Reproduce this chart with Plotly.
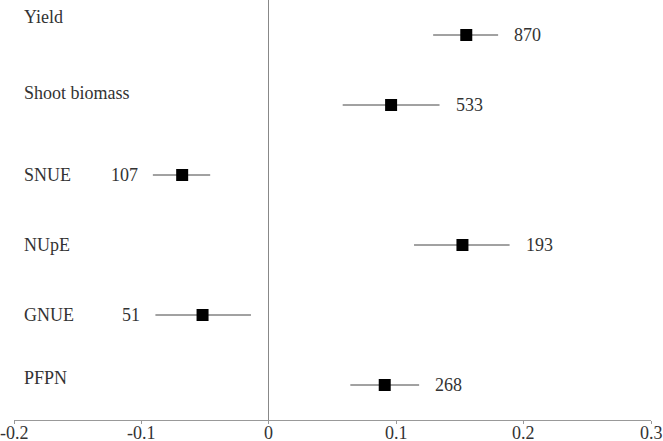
import plotly.graph_objects as go

# forest plot data: effect size with 95% CI and number of observations
outcomes = ["Yield", "Shoot biomass", "SNUE", "NUpE", "GNUE", "PFPN"]
effect = [0.155, 0.096, -0.068, 0.152, -0.052, 0.091]
ci_low = [0.129, 0.058, -0.091, 0.114, -0.089, 0.064]
ci_high = [0.180, 0.134, -0.046, 0.189, -0.014, 0.118]
n_obs = [870, 533, 107, 193, 51, 268]
row_pos = [6, 5, 4, 3, 2, 1]
x_ticks = [-0.2, -0.1, 0, 0.1, 0.2, 0.3]
x_tick_labels = ["-0.2", "-0.1", "0", "0.1", "0.2", "0.3"]

font_family = "Liberation Serif, serif"
text_color = "#333333"
label_lift = [18, 12, 0, 0, 0, 7]  # outcome labels sit slightly above some rows
big_font = dict(family=font_family, size=18, color=text_color)

fig = go.Figure()

fig.add_trace(go.Scatter(
    x=effect,
    y=row_pos,
    mode="markers",
    marker=dict(symbol="square", size=12, color="black"),
    error_x=dict(
        type="data",
        symmetric=False,
        array=[h - e for h, e in zip(ci_high, effect)],
        arrayminus=[e - l for e, l in zip(effect, ci_low)],
        color="#444444",
        thickness=1,
        width=0,
    ),
    showlegend=False,
    hoverinfo="skip",
))

for name, y, lift in zip(outcomes, row_pos, label_lift):
    fig.add_annotation(x=0, xref="paper", y=y, yref="y",
                       text=name, showarrow=False,
                       xanchor="left", yanchor="middle",
                       xshift=8, yshift=lift, font=big_font)

for e, lo, hi, n, y in zip(effect, ci_low, ci_high, n_obs, row_pos):
    if e >= 0:
        fig.add_annotation(x=hi, y=y, text=str(n), showarrow=False,
                           xanchor="left", xshift=14, font=big_font)
    else:
        fig.add_annotation(x=lo, y=y, text=str(n), showarrow=False,
                           xanchor="right", xshift=-13, font=big_font)

# tick labels sit tight under the axis, closer than plotly's default standoff
for tv, tt in zip(x_ticks, x_tick_labels):
    fig.add_annotation(x=tv, y=0, yref="paper", text=tt, showarrow=False,
                       xanchor="center", yanchor="top", yshift=-1, font=big_font)

fig.update_layout(
    width=663,
    height=441,
    margin=dict(l=14, r=12, t=0, b=21),
    paper_bgcolor="white",
    plot_bgcolor="white",
    font=big_font,
    xaxis=dict(
        range=[-0.2, 0.3],
        tickvals=x_ticks,
        showticklabels=False,
        showgrid=False,
        zeroline=True,
        zerolinecolor="#888888",
        zerolinewidth=1,
        showline=True,
        linecolor="#999999",
        linewidth=1,
        ticks="outside",
        ticklen=3,
        tickcolor="#999999",
        automargin=False,
    ),
    yaxis=dict(
        range=[0.5, 6.5],
        visible=False,
        showgrid=False,
        zeroline=False,
    ),
)

# page body has a default margin; drop it so the figure fills the window
fig.write_html("out.html", config={"displayModeBar": False},
               post_script="document.body.style.margin='0';")
